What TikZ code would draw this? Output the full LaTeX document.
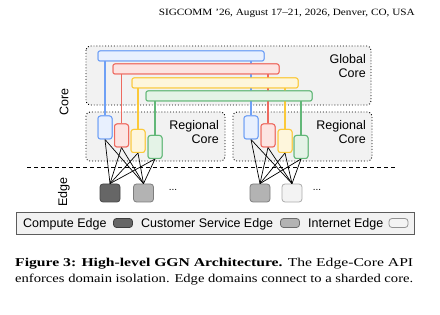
\documentclass[tikz,border=0pt]{standalone}
\usepackage{fontspec}
\setmainfont{Liberation Serif}
\newfontfamily\diag{Liberation Sans}
\definecolor{bbord}{HTML}{6FA0F5}
\definecolor{bfill}{HTML}{E8F0FE}
\definecolor{rbord}{HTML}{EE6A60}
\definecolor{rfill}{HTML}{FCE4E2}
\definecolor{ybord}{HTML}{FBC93A}
\definecolor{yfill}{HTML}{FEF6DC}
\definecolor{gbord}{HTML}{62B778}
\definecolor{gfill}{HTML}{E4F3E7}
\definecolor{corefill}{HTML}{F2F2F2}
\definecolor{compute}{HTML}{666666}
\definecolor{customer}{HTML}{B3B3B3}
\definecolor{internet}{HTML}{F3F3F3}
\tikzset{
  corebox/.style={draw, dotted, line width=0.9pt, fill=corefill, rounded corners=4pt},
  bar/.style={draw=#1bord, fill=#1fill, line width=1pt, rounded corners=2pt, minimum width=166pt, minimum height=10pt, inner sep=0pt},
  rbox/.style={draw=#1bord, fill=#1fill, line width=1pt, rounded corners=2.5pt, minimum width=14pt, minimum height=23pt, inner sep=0pt},
  vline/.style={draw=#1bord, line width=1.5pt},
  ebox/.style={draw=#1!70!black, fill=#1, line width=0.8pt, rounded corners=3pt, minimum width=20pt, minimum height=18pt, inner sep=0pt},
  swatch/.style={draw=#1!60!black, fill=#1, line width=0.8pt, rounded corners=3pt, minimum width=19pt, minimum height=9pt, inner sep=0pt},
  link/.style={draw=black, line width=0.7pt},
  lbl/.style={font=\diag\fontsize{12.5}{14.5}\selectfont, inner sep=0pt},
  captxt/.style={anchor=base west, inner sep=0pt, font=\fontsize{12}{14}\selectfont},
}
\begin{document}
\begin{tikzpicture}[x=1pt,y=-1pt]
\useasboundingbox (0,0) rectangle (440,315);
% header
\node[anchor=base east, inner sep=0pt, font=\fontsize{9.6}{11}\selectfont] (hdr) at (415,16) {\resizebox{256pt}{\height}{SIGCOMM '26, August 17--21, 2026, Denver, CO, USA}};
% core boxes
\path[corebox] (86,46) rectangle (371,105);
\node[lbl, anchor=east, align=right] (gctext) at (366,66) {Global\\Core};
\path[corebox] (86,112) rectangle (225,161);
\path[corebox] (233,112) rectangle (372,161);
\node[lbl, anchor=east, align=right] (rc1) at (219,132) {Regional\\Core};
\node[lbl, anchor=east, align=right] (rc2) at (366,132) {Regional\\Core};
% side labels
\node[lbl, rotate=90] (corelbl) at (64,102) {Core};
\node[lbl, rotate=90] (edgelbl) at (64,192) {Edge};
% bars
\node[bar=b] (bb) at (181,56) {};
\node[bar=r] (br) at (196,69) {};
\node[bar=y] (by) at (215,83) {};
\node[bar=g] (bg) at (229,96) {};
% regional boxes
\node[rbox=b] (lb) at (105,127.5) {};
\node[rbox=r] (lr) at (121.5,135.5) {};
\node[rbox=y] (ly) at (138,141) {};
\node[rbox=g] (lg) at (155,147) {};
\node[rbox=b] (rb) at (251,127.5) {};
\node[rbox=r] (rr) at (268,135.5) {};
\node[rbox=y] (ry) at (285,141) {};
\node[rbox=g] (rg) at (301,147) {};
% vertical connectors
\foreach \c/\b in {b/bb, r/br, y/by, g/bg}{
  \draw[vline=\c] (l\c.north) -- (l\c.north |- \b.south);
  \draw[vline=\c] (r\c.north) -- (r\c.north |- \b.south);
}
% redraw bars on top
\node[bar=b] at (181,56) {};
\node[bar=r] at (196,69) {};
\node[bar=y] at (215,83) {};
\node[bar=g] at (229,96) {};
% dashed separator
\coordinate (ds) at (27,167);
\coordinate (de) at (395,167);
\draw[dashed, dash pattern=on 4pt off 3pt, line width=0.8pt] (ds) -- (de);
% edge boxes
\node[ebox=compute] (e1) at (110,193) {};
\node[ebox=customer] (e2) at (143.5,193) {};
\node[ebox=customer] (e3) at (260,193) {};
\node[ebox=internet] (e4) at (292,193) {};
\node[lbl, font=\diag\fontsize{10}{12}\selectfont] (dots1) at (173,190) {...};
\node[lbl, font=\diag\fontsize{10}{12}\selectfont] (dots2) at (317,190) {...};
% links
\foreach \s in {lb,lr,ly,lg}{
  \draw[link] (\s.south) -- (e1.north);
  \draw[link] (\s.south) -- (e2.north);
}
\foreach \s in {rb,rr,ry,rg}{
  \draw[link] (\s.south) -- (e3.north);
  \draw[link] (\s.south) -- (e4.north);
}
% redraw regional boxes on top of links
\foreach \c/\x/\y in {b/105/127.5, r/121.5/135.5, y/138/141, g/155/147}{
  \node[rbox=\c] at (\x,\y) {};
}
\foreach \c/\x/\y in {b/251/127.5, r/268/135.5, y/285/141, g/301/147}{
  \node[rbox=\c] at (\x,\y) {};
}
% legend
\path[draw=compute!90!black, fill=corefill, line width=0.9pt] (16,212) rectangle (414,234);
\node[lbl, anchor=base west] (lg1) at (23,228) {Compute Edge};
\node[swatch=compute] (sw1) at (123,223) {};
\node[lbl, anchor=base west] (lg2) at (141,228) {Customer Service Edge};
\node[swatch=customer] (sw2) at (290,223) {};
\node[lbl, anchor=base west] (lg3) at (308,228) {Internet Edge};
\node[swatch=internet] (sw3) at (398.5,223) {};
% caption
\node[captxt] (cap1) at (15,267) {\resizebox{398pt}{\height}{\textbf{Figure 3: High-level GGN Architecture.} The Edge-Core API}};
\node[captxt] (cap2) at (15,283) {\resizebox{398pt}{\height}{enforces domain isolation. Edge domains connect to a sharded core.}};
\end{tikzpicture}
\end{document}
